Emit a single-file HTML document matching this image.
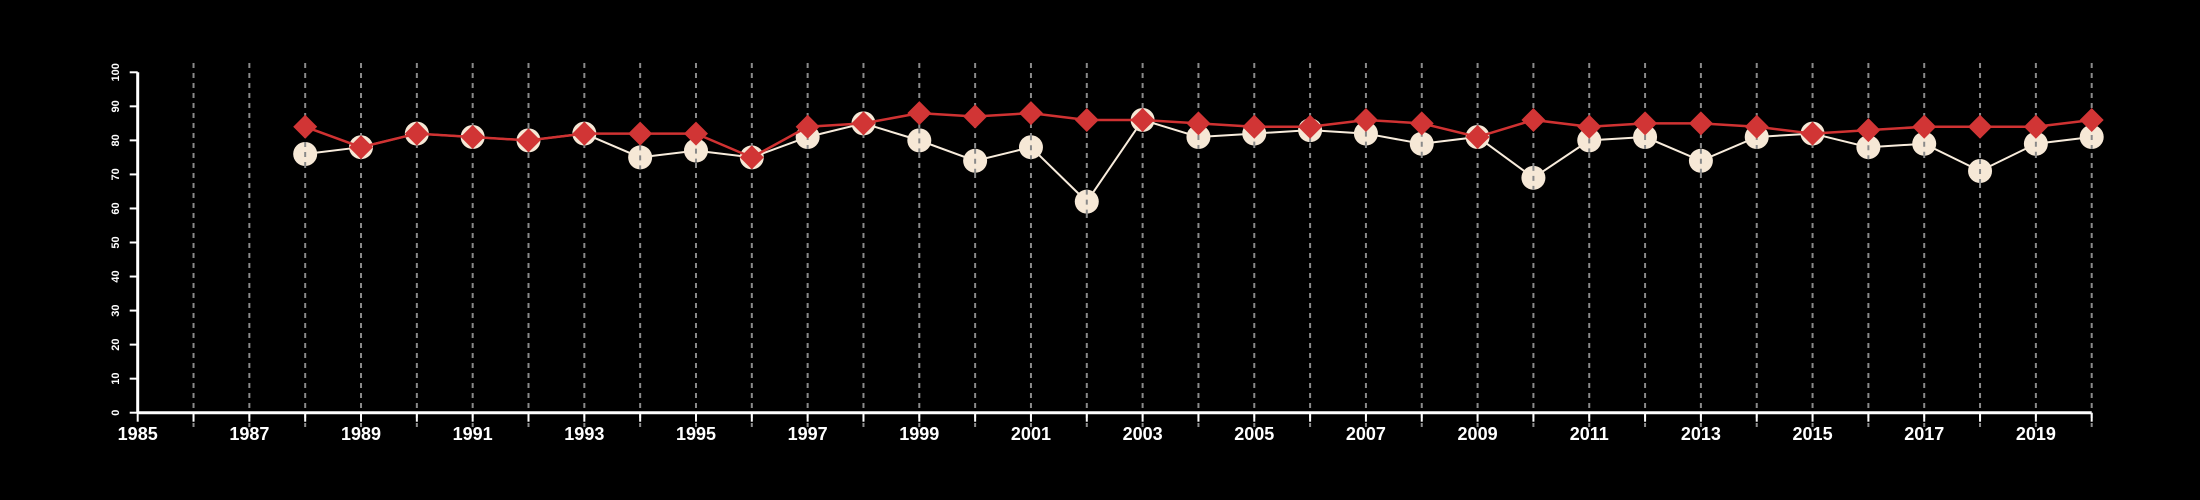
<!DOCTYPE html>
<html><head><meta charset="utf-8"><style>
html,body{margin:0;padding:0;background:#000;}
svg{display:block;font-family:"Liberation Sans",Arial,sans-serif;}
</style></head><body>
<svg id="chart" width="2200" height="500" viewBox="0 0 2200 500">
<rect width="2200" height="500" fill="#000"/>
<g id="grid"></g>
<g id="axes"></g>
<g id="series"></g>
</svg>
<script>
const years = [1988,1989,1990,1991,1992,1993,1994,1995,1996,1997,1998,1999,2000,2001,2002,2003,2004,2005,2006,2007,2008,2009,2010,2011,2012,2013,2014,2015,2016,2017,2018,2019,2020];
const whiteSeries = [76,78,82,81,80,82,75,77,75,81,85,80,74,78,62,86,81,82,83,82,79,81,69,80,81,74,81,82,78,79,71,79,81];
const redSeries = [84,78,82,81,80,82,82,82,75,84,85,88,87,88,86,86,85,84,84,86,85,81,86,84,85,85,84,82,83,84,84,84,86];
const yTicks = [0,10,20,30,40,50,60,70,80,90,100];
const xTickYears = [1985,1986,1987,1988,1989,1990,1991,1992,1993,1994,1995,1996,1997,1998,1999,2000,2001,2002,2003,2004,2005,2006,2007,2008,2009,2010,2011,2012,2013,2014,2015,2016,2017,2018,2019,2020];

const NS="http://www.w3.org/2000/svg";
const x0=137.7, x1=2091.7, yr0=1985, yr1=2020;
const yBase=412.7, yTop=72.3;
const xs=v=>x0+(v-yr0)*(x1-x0)/(yr1-yr0);
const ys=v=>yBase-(v/100)*(yBase-yTop);
function mk(tag,attrs,parent){const e=document.createElementNS(NS,tag);for(const k in attrs)e.setAttribute(k,attrs[k]);parent.appendChild(e);return e;}
const grid=document.getElementById('grid'),axes=document.getElementById('axes'),series=document.getElementById('series');

xTickYears.forEach(y=>{
  if(y===yr0) return;
  const l=mk('line',{x1:xs(y),x2:xs(y),y1:63,y2:427,stroke:'#8a8a8a','stroke-width':2,'stroke-dasharray':'5,5'},grid);
  
  
});

// axes
let a=mk('line',{x1:x0,x2:x1,y1:yBase,y2:yBase,stroke:'#fff','stroke-width':3},axes);


a=mk('line',{x1:x0,x2:x0,y1:yBase,y2:yTop,stroke:'#fff','stroke-width':3},axes);



yTicks.forEach(v=>{
  const t=mk('line',{x1:x0-8,x2:x0,y1:ys(v),y2:ys(v),stroke:'#fff','stroke-width':2},axes);
  
  
  const tx=mk('text',{x:0,y:0,fill:'#fff','font-size':11,'font-weight':'bold','text-anchor':'middle',transform:`translate(119,${ys(v)}) rotate(-90)`},axes);
  tx.textContent=v;
  
  
});
xTickYears.forEach(y=>{
  const t=mk('line',{x1:xs(y),x2:xs(y),y1:yBase,y2:yBase+9,stroke:'#fff','stroke-width':2},axes);
  
  
  if((y-yr0)%2===0){
    const tx=mk('text',{x:xs(y),y:440,fill:'#fff','font-size':18,'font-weight':'bold','text-anchor':'middle'},axes);
    tx.textContent=y;
    
    
  }
});

// white series
const wp=mk('polyline',{points:years.map((y,i)=>xs(y)+','+ys(whiteSeries[i])).join(' '),fill:'none',stroke:'#f8ecdc','stroke-width':2},series);


years.forEach((y,i)=>{
  const c=mk('circle',{cx:xs(y),cy:ys(whiteSeries[i]),r:12,fill:'#f6e8d6'},series);
  
  
  const d=mk('line',{x1:xs(y),x2:xs(y),y1:ys(whiteSeries[i])-12,y2:ys(whiteSeries[i])+12,stroke:'#8a8a8a','stroke-width':2,'stroke-dasharray':'5,5'},series);
  
  
});
// red series
const rp=mk('polyline',{points:years.map((y,i)=>xs(y)+','+ys(redSeries[i])).join(' '),fill:'none',stroke:'#d03232','stroke-width':2.5},series);


years.forEach((y,i)=>{
  const cx=xs(y),cy=ys(redSeries[i]),h=12;
  const p=mk('polygon',{points:`${cx},${cy-h} ${cx+h},${cy} ${cx},${cy+h} ${cx-h},${cy}`,fill:'#d13535'},series);
  
  
});
</script>
</body></html>
